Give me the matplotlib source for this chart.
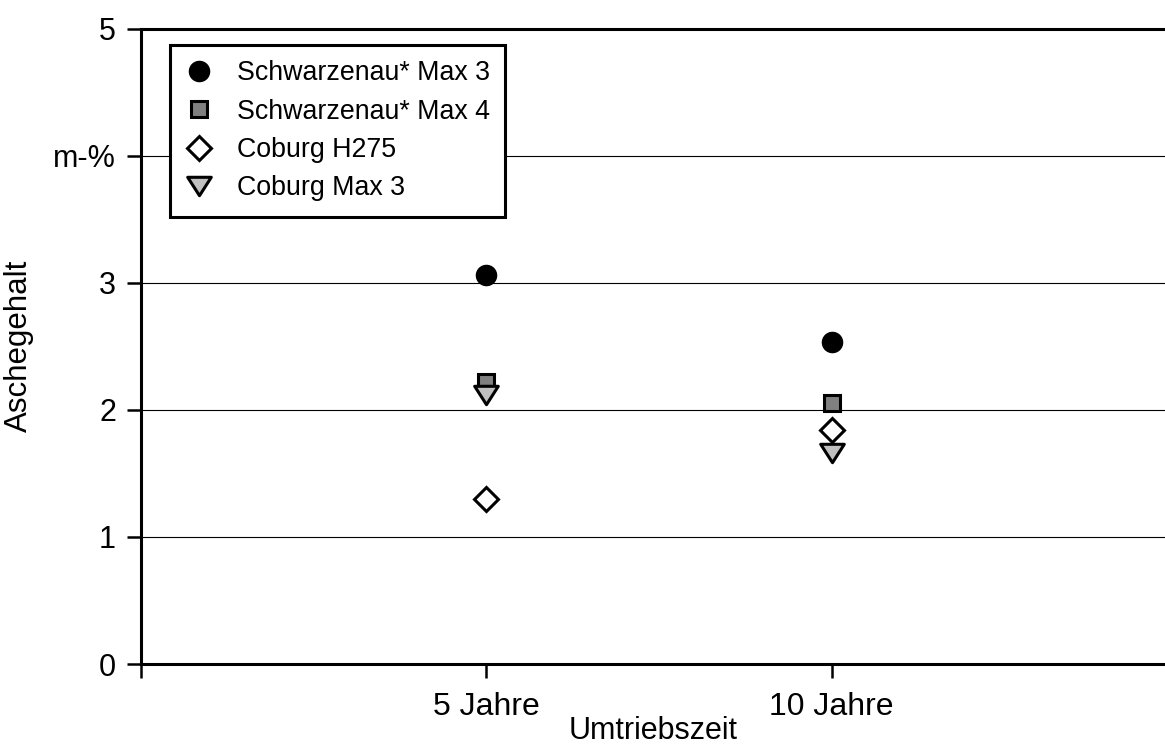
import matplotlib
matplotlib.use("Agg")
import matplotlib.pyplot as plt
from matplotlib.path import Path

plt.rcParams['font.family'] = ['Liberation Sans', 'DejaVu Sans']

categories = ['5 Jahre', '10 Jahre']
series_names = ['Schwarzenau* Max 3', 'Schwarzenau* Max 4', 'Coburg H275', 'Coburg Max 3']
schw_max3 = [3.06, 2.53]
schw_max4 = [2.22, 2.05]
cob_h275 = [1.30, 1.84]
cob_max3 = [2.12, 1.66]
ytick_vals = [0, 1, 2, 3, 4, 5]
ytick_labels = ['0', '1', '2', '3', 'm-%', '5']

tri = Path([(-1, 0.78), (1, 0.78), (0, -0.78), (-1, 0.78)],
           [Path.MOVETO, Path.LINETO, Path.LINETO, Path.CLOSEPOLY])
styles = [
    dict(marker='o', markersize=14.5, markerfacecolor='black', markeredgecolor='black', markeredgewidth=1),
    dict(marker='s', markersize=11.5, markerfacecolor='#808080', markeredgecolor='black', markeredgewidth=2.2),
    dict(marker='D', markersize=12.5, markerfacecolor='white', markeredgecolor='black', markeredgewidth=2.2),
    dict(marker=tri, markersize=17, markerfacecolor='#c0c0c0', markeredgecolor='black', markeredgewidth=2.2),
]
series = [schw_max3, schw_max4, cob_h275, cob_max3]

fig = plt.figure(figsize=(11.65, 7.49), dpi=100)
ax = fig.add_axes([141/1165, 85/749, 1 - 141/1165, (664 - 28.5)/749])

xpos = [1, 2]
handles = []
for name, vals, st in zip(series_names, series, styles):
    h, = ax.plot(xpos, vals, linestyle='none', label=name, zorder=3, clip_on=False, **st)
    handles.append(h)

ax.set_xlim(0, 2.965)
ax.set_ylim(0, 5)
ax.set_xticks([0] + xpos)
ax.set_xticklabels([''] + categories, fontsize=23)
ax.set_yticks(ytick_vals)
ax.set_yticklabels(ytick_labels, fontsize=22)
for y in [1, 2, 3, 4]:
    ax.axhline(y, color='black', linewidth=0.8, zorder=1)

ax.spines['right'].set_visible(False)
for s in ['left', 'bottom', 'top']:
    ax.spines[s].set_linewidth(2.2)
ax.tick_params(axis='both', direction='out', length=10, width=1.8, pad=8)
ax.tick_params(axis='x', pad=10)

ax.set_xlabel('Umtriebszeit', fontsize=22, labelpad=-4)
ax.set_ylabel('Aschegehalt', fontsize=22.5, labelpad=14)

leg = ax.legend(handles=handles, loc='upper left', bbox_to_anchor=(0.028, 0.974),
                borderaxespad=0, fontsize=19.3, frameon=True, fancybox=False,
                edgecolor='black', framealpha=1, labelspacing=0.46,
                handlelength=1.02, handletextpad=0.91, borderpad=0.57, numpoints=1)
leg.get_frame().set_linewidth(2.2)
leg.set_zorder(5)

fig.savefig('out.png', dpi=100)
